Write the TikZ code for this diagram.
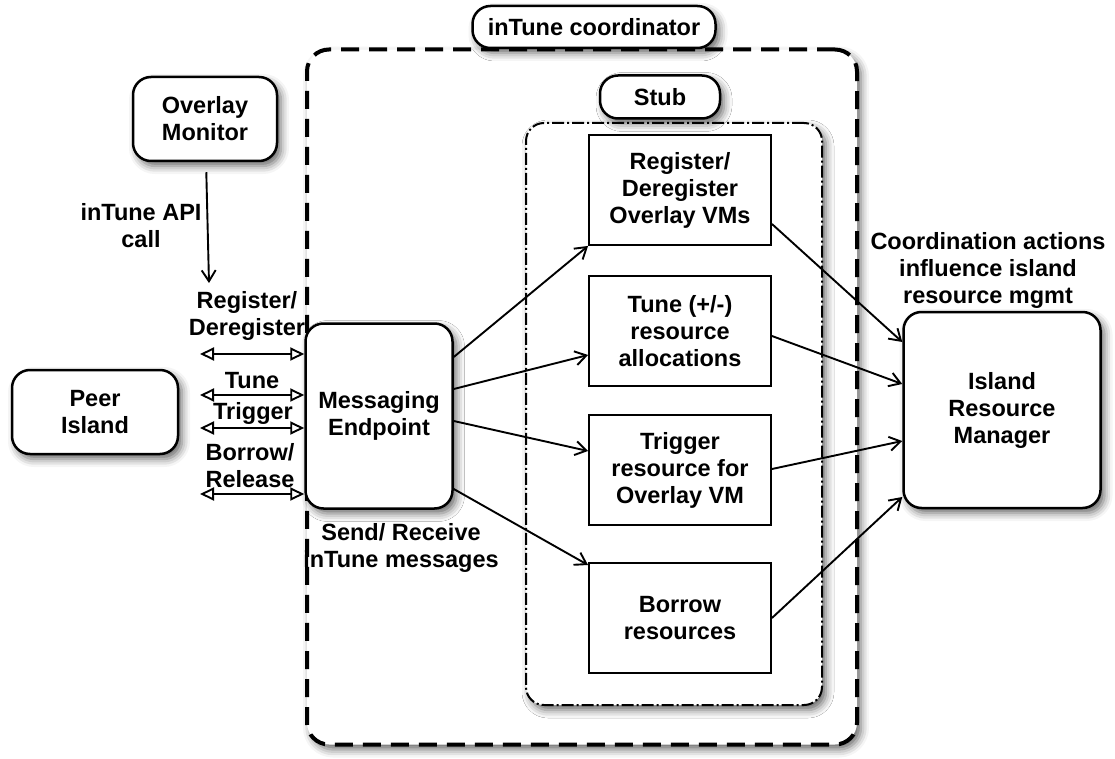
\documentclass[tikz,border=0pt]{standalone}
\usepackage{fontspec}
\setmainfont{Liberation Sans}
\usetikzlibrary{arrows.meta,shadows.blur}
\begin{document}
\begin{tikzpicture}[x=1pt,y=-1pt,
  font=\fontsize{23.5}{27}\selectfont\bfseries,
  softshadow/.style={blur shadow={shadow xshift=4pt,shadow yshift=-5pt,shadow blur radius=8pt,shadow opacity=60}},
  roundbox/.style={draw,line width=2.5pt,rounded corners=18pt,fill=white,align=center,inner sep=0pt,softshadow},
  actbox/.style={draw,line width=1.9pt,fill=white,align=center,inner sep=0pt,minimum width=182pt,minimum height=110pt},
  call/.style={line width=1.9pt,-{Straight Barb[length=11pt,width=14pt,line width=1.9pt]}},
  msg/.style={line width=1.9pt,{Triangle[open,length=14pt,width=13pt,line width=1.9pt]}-{Triangle[open,length=14pt,width=13pt,line width=1.9pt]}},
  lbl/.style={align=center,inner sep=0pt}]
\useasboundingbox (0,0) rectangle (1115,759);

% coordinator container and its title
\node[draw,line width=4pt,dash pattern=on 18pt off 10pt,rounded corners=22pt,fill=white,softshadow,
      minimum width=550pt,minimum height=695pt,inner sep=0pt] (coord) at (582,397) {};
\node[roundbox,minimum width=243pt,minimum height=42pt] (coordlbl) at (594,27) {inTune coordinator};

% stub container and its title
\node[draw,line width=2pt,dash pattern=on 12pt off 3pt on 2pt off 3pt,rounded corners=18pt,fill=white,softshadow,
      minimum width=296pt,minimum height=582pt,inner sep=0pt] (stub) at (674,414) {};
\node[roundbox,minimum width=120pt,minimum height=43pt] (stublbl) at (660,97) {Stub};

% stub actions
\node[actbox] (reg)    at (680,190) {Register/\\Deregister\\Overlay VMs};
\node[actbox] (tune)   at (680,331) {Tune (+/-)\\resource\\allocations};
\node[actbox] (trig)   at (680,470) {Trigger\\resource for\\Overlay VM};
\node[actbox] (borrow) at (680,618) {Borrow\\resources};

% outer components
\node[roundbox,minimum width=144pt,minimum height=84pt] (ovm)  at (205,119) {Overlay\\Monitor};
\node[roundbox,minimum width=166pt,minimum height=84pt] (peer) at (95,412)  {Peer\\Island};
\node[roundbox,minimum width=147pt,minimum height=185pt] (me)  at (379,416) {Messaging\\Endpoint};
\node[roundbox,minimum width=197pt,minimum height=196pt] (irm) at (1002,410) {Island\\Resource\\Manager};

% labels
\node[lbl] (apilbl)   at (141,226) {inTune API\\call};
\node[lbl] (reglbl)   at (247,316) {Register/\\Deregister};
\node[lbl] (tunelbl)  at (252,381) {Tune};
\node[lbl] (triglbl)  at (253,413) {Trigger};
\node[lbl] (borlbl)   at (250,466) {Borrow/\\Release};
\node[lbl] (sendlbl)  at (401,548) {Send/ Receive\\inTune messages};
\node[lbl] (coordtxt) at (988,270) {Coordination actions\\influence island\\resource mgmt};

% API call from the overlay monitor
\coordinate (apiend) at (209,283);
\draw[call,shorten <=10pt] (ovm) -- (apiend);

% message exchange with the peer island
\coordinate (m1) at (200,354);
\coordinate (m2) at (200,395);
\coordinate (m3) at (200,428);
\coordinate (m4) at (200,494);
\foreach \m in {m1,m2,m3,m4}
  \draw[msg] (\m) -- (\m -| me.west);

% messaging endpoint to stub actions
\draw[call] ([yshift=59pt]me.east)  -- (reg.south west);
\draw[call] ([yshift=27pt]me.east)  -- ([yshift=-24pt]tune.west);
\draw[call] ([yshift=-5pt]me.east)  -- ([yshift=19pt]trig.west);
\draw[call] ([yshift=-73pt]me.east) -- ([yshift=53pt]borrow.west);

% stub actions to the island resource manager
\draw[call] ([yshift=-34pt]reg.east)  -- ([yshift=68pt]irm.west);
\draw[call] ([yshift=-5pt]tune.east)  -- ([yshift=26pt]irm.west);
\draw[call] ([yshift=1pt]trig.east)   -- ([yshift=-31pt]irm.west);
\draw[call] ([yshift=0pt]borrow.east) -- ([yshift=-87pt]irm.west);
\end{tikzpicture}
\end{document}
